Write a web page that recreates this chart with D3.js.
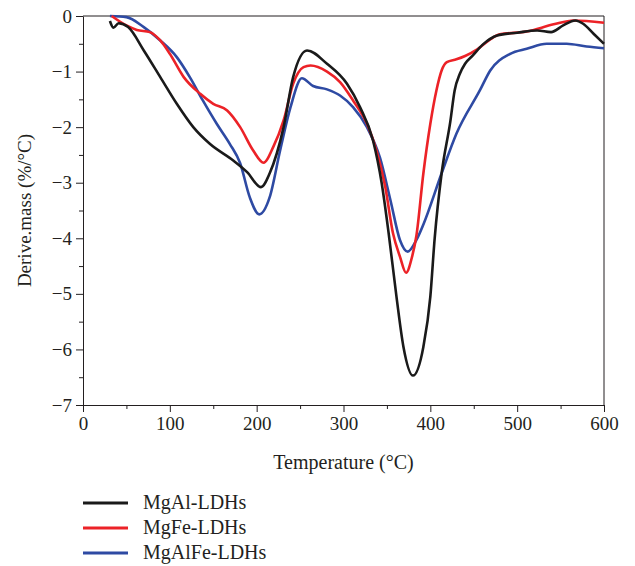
<!DOCTYPE html>
<html>
<head>
<meta charset="utf-8">
<script src="https://cdn.jsdelivr.net/npm/d3@7"></script>
<style>
  body { margin: 0; background: #fff; }
  text { font-family: "Liberation Serif", "DejaVu Serif", serif; fill: #231f20; }
</style>
</head>
<body>
<div id="chart"></div>
<script>
// temperature (°C) and derivative mass (%/°C)
const mgAlT = [31, 35, 41, 52, 70, 89, 108, 127, 146, 173, 189, 205, 215, 231, 242, 258, 281, 304, 319, 334, 344, 352, 361, 369, 380, 392, 400, 405, 413, 423, 428, 434, 440, 449, 460, 477, 500, 523, 539, 553, 567, 576, 588, 600];
const mgAlV = [-0.09, -0.21, -0.13, -0.2, -0.62, -1.1, -1.58, -2.0, -2.3, -2.6, -2.81, -3.08, -2.83, -2.0, -1.1, -0.62, -0.86, -1.22, -1.64, -2.24, -3.01, -3.91, -5.05, -5.95, -6.47, -5.95, -5.05, -4.0, -2.83, -1.9, -1.34, -1.04, -0.86, -0.71, -0.52, -0.35, -0.3, -0.26, -0.29, -0.17, -0.08, -0.14, -0.32, -0.5];

const mgFeT = [33, 50, 62, 77, 89, 100, 116, 135, 150, 166, 181, 196, 208, 219, 231, 242, 254, 262, 281, 296, 311, 327, 338, 348, 357, 365, 372, 379, 384, 392, 400, 407, 413, 419, 430, 440, 454, 469, 480, 511, 542, 565, 600];
const mgFeV = [0, -0.17, -0.25, -0.29, -0.44, -0.68, -1.1, -1.4, -1.58, -1.7, -2.0, -2.42, -2.64, -2.36, -1.88, -1.22, -0.92, -0.89, -1.0, -1.19, -1.52, -1.94, -2.42, -3.07, -3.91, -4.33, -4.62, -4.33, -3.95, -2.83, -1.94, -1.34, -0.98, -0.83, -0.78, -0.72, -0.6, -0.42, -0.33, -0.28, -0.15, -0.08, -0.12];

const mgAlFeT = [31, 50, 70, 89, 108, 123, 138, 154, 169, 181, 192, 203, 215, 227, 239, 252, 265, 281, 296, 311, 327, 342, 354, 365, 374, 384, 392, 413, 430, 457, 469, 492, 511, 534, 557, 580, 600];
const mgAlFeV = [0, -0.02, -0.2, -0.44, -0.74, -1.1, -1.52, -1.94, -2.3, -2.65, -3.26, -3.57, -3.26, -2.42, -1.64, -1.12, -1.26, -1.32, -1.43, -1.64, -2.0, -2.55, -3.31, -4.03, -4.24, -4.03, -3.75, -2.83, -2.12, -1.34, -0.98, -0.68, -0.59, -0.5, -0.5, -0.55, -0.58];

const seriesNames = ["MgAl-LDHs", "MgFe-LDHs", "MgAlFe-LDHs"];
const seriesColors = ["#1a1a1a", "#ec2227", "#2e4aa3"];
const xTicks = [0, 100, 200, 300, 400, 500, 600];
const yTicks = [-7, -6, -5, -4, -3, -2, -1, 0];

const width = 635;
const height = 566;
const margin = { top: 16, right: 31, bottom: 161, left: 83 };

const svg = d3.select('#chart')
    .append('svg')
    .attr('width', width)
    .attr('height', height);

const x = d3.scaleLinear()
    .domain([0, 600])
    .range([margin.left, width - margin.right]);

const y = d3.scaleLinear()
    .domain([-7, 0])
    .range([height - margin.bottom, margin.top]);

// frame on top and right
svg.append('path')
    .attr('d', `M${x(0)},${y(0)}H${x(600)}V${y(-7)}`)
    .attr('fill', 'none')
    .attr('stroke', '#231f20')
    .attr('stroke-width', 1);

// minor ticks
svg.append('g')
    .attr('transform', `translate(0,${y(-7)})`)
    .call(d3.axisBottom(x).tickValues(d3.range(50, 600, 100)).tickSize(4).tickFormat(''))
    .call(g => g.select('.domain').remove());
svg.append('g')
    .attr('transform', `translate(${x(0)},0)`)
    .call(d3.axisLeft(y).tickValues(d3.range(-6.5, 0, 1)).tickSize(4).tickFormat(''))
    .call(g => g.select('.domain').remove());

svg.append('g')
    .attr('transform', `translate(0,${y(-7)})`)
    .call(d3.axisBottom(x).tickValues(xTicks).tickSize(7).tickPadding(5).tickSizeOuter(0));

svg.append('g')
    .attr('transform', `translate(${x(0)},0)`)
    .call(d3.axisLeft(y).tickValues(yTicks).tickFormat(d3.format('d')).tickSize(7).tickPadding(4).tickSizeOuter(0));

svg.selectAll('.tick line, .domain').attr('stroke', '#231f20');
svg.selectAll('.tick text')
    .attr('font-family', '"Liberation Serif", serif')
    .attr('font-size', 19)
    .attr('fill', '#231f20');

svg.append('text')
    .attr('x', x(300))
    .attr('y', 469)
    .attr('text-anchor', 'middle')
    .attr('font-size', 20)
    .text('Temperature (°C)');

svg.append('text')
    .attr('transform', `translate(31,${y(-3.5)}) rotate(-90)`)
    .attr('text-anchor', 'middle')
    .attr('font-size', 19)
    .text('Derive.mass (%/°C)');

const series = [
    { name: seriesNames[0], t: mgAlT, v: mgAlV, color: seriesColors[0] },
    { name: seriesNames[1], t: mgFeT, v: mgFeV, color: seriesColors[1] },
    { name: seriesNames[2], t: mgAlFeT, v: mgAlFeV, color: seriesColors[2] },
];

const line = d3.line()
    .x(d => x(d[0]))
    .y(d => y(d[1]))
    .curve(d3.curveMonotoneX);

svg.append('g')
    .selectAll('path')
    .data([series[2], series[1], series[0]])
    .join('path')
        .attr('d', s => line(d3.zip(s.t, s.v)))
        .attr('fill', 'none')
        .attr('stroke', s => s.color)
        .attr('stroke-width', 2.6)
        .attr('stroke-linejoin', 'round');

const legend = svg.append('g')
    .selectAll('g')
    .data(series)
    .join('g')
        .attr('transform', (d, i) => `translate(83,${503 + i * 25})`);

legend.append('line')
    .attr('x1', 0)
    .attr('x2', 45)
    .attr('stroke', d => d.color)
    .attr('stroke-width', 3);

legend.append('text')
    .attr('x', 60)
    .attr('dy', '0.32em')
    .attr('font-size', 20)
    .text(d => d.name);
</script>
</body>
</html>
